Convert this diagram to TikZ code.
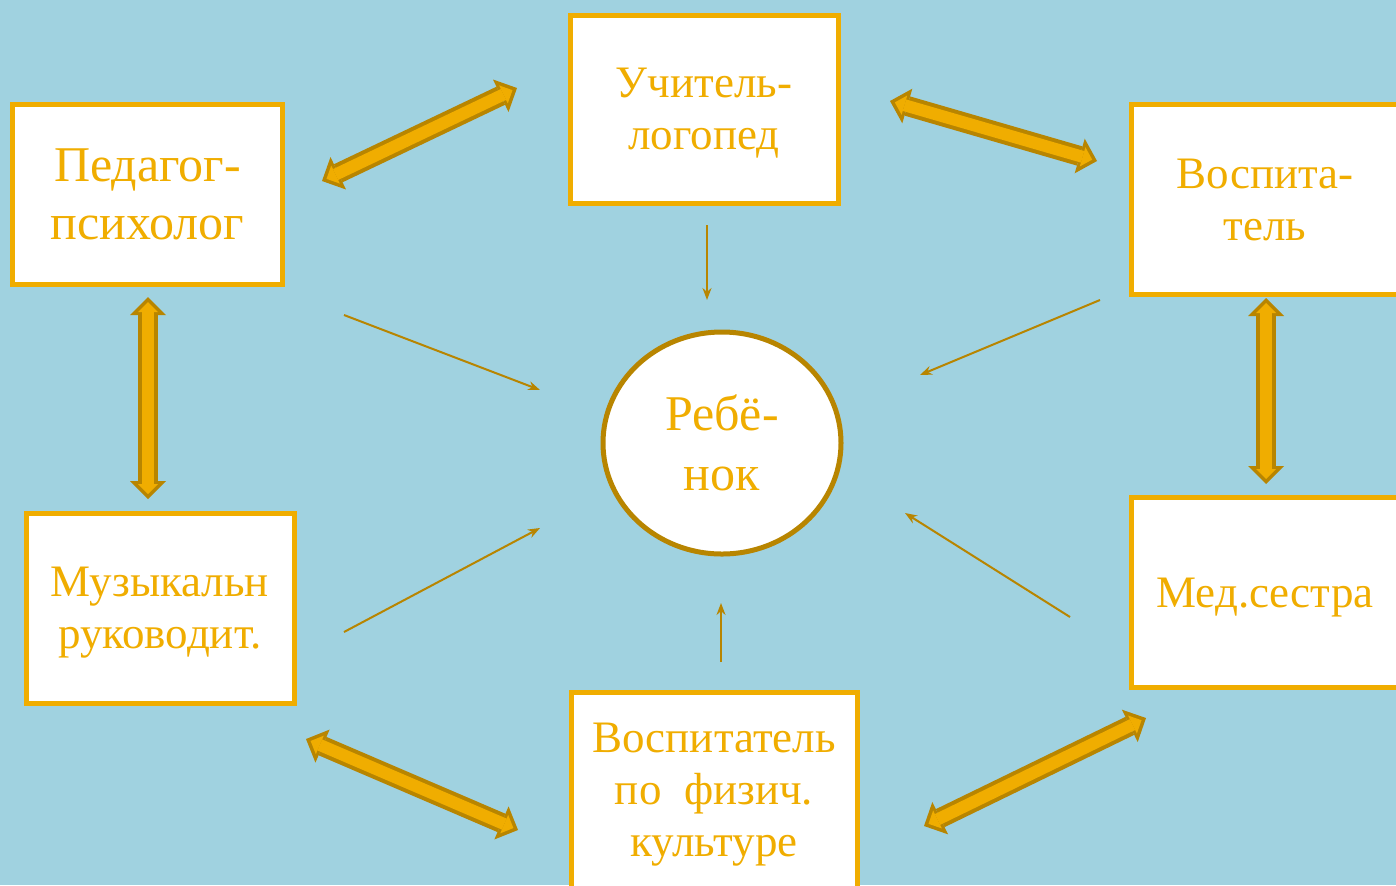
\documentclass[tikz,border=0pt]{standalone}
\usepackage{fontspec}
\setmainfont{Liberation Serif}
\usepackage{tikz}
\usetikzlibrary{arrows.meta,shapes.geometric}
\definecolor{sky}{RGB}{160,210,224}
\definecolor{gold}{RGB}{240,173,0}
\definecolor{darkgold}{RGB}{184,133,0}

\tikzset{
  role/.style={draw=gold, line width=2.5pt, fill=white, text=gold, align=center,
    inner sep=0pt, minimum width=134pt, minimum height=95pt, text depth=-4pt,
    font=\fontsize{22.5}{26}\selectfont},
  child/.style={ellipse, draw=darkgold, line width=2.5pt, fill=white, text=gold,
    align=center, inner sep=0pt, minimum width=119pt, minimum height=111pt,
    text depth=-4pt, font=\fontsize{25}{30}\selectfont},
  bigout/.style={draw=darkgold, line width=10pt,
    {Triangle[length=9pt,width=18pt,line width=0pt]}-{Triangle[length=9pt,width=18pt,line width=0pt]}},
  bigin/.style={draw=gold, line width=6pt, shorten <=2.5pt, shorten >=2.5pt,
    {Triangle[length=5pt,width=10pt,line width=0pt]}-{Triangle[length=5pt,width=10pt,line width=0pt]}},
  thin/.style={draw=darkgold, line width=1pt, -{Stealth[length=6pt,width=4.5pt]}}
}

\begin{document}
\begin{tikzpicture}[x=0.5pt,y=-0.5pt]
\clip (0,0) rectangle (1396,885);
\fill[sky] (0,0) rectangle (1396,885);

% the people round the child
\node[role, minimum width=135pt, minimum height=90pt, font=\fontsize{25}{29}\selectfont] (ped) at (147.5,194) {Педагог-\\психолог};
\node[role, minimum height=94pt] (log) at (704,109) {Учитель-\\логопед};
\node[role] (vos) at (1265,199.5) {Воспита-\\тель};
\node[role] (muz) at (160,608) {Музыкальн\\руководит.};
\node[role, minimum width=143pt, minimum height=98pt] (fiz) at (714,790) {Воспитатель\\по~~физич.\\культуре};
\node[role] (med) at (1265,592.5) {Мед.сестра};
\node[child] (reb) at (722,443) {Ребё-\\нок};

% ends of the thick arrows
\coordinate (pl1) at (322,181);  \coordinate (pl2) at (517,88);
\coordinate (lv1) at (890,101);  \coordinate (lv2) at (1097,161);
\coordinate (pm1) at (148,297);  \coordinate (pm2) at (148,499);
\coordinate (vm1) at (1266,298); \coordinate (vm2) at (1266,484);
\coordinate (mf1) at (306,739);  \coordinate (mf2) at (518,830);
\coordinate (fm1) at (924,826);  \coordinate (fm2) at (1146,718);

\foreach \a/\b in {pl1/pl2, lv1/lv2, pm1/pm2, vm1/vm2, mf1/mf2, fm1/fm2}{
  \draw[bigout] (\a) -- (\b);
  \draw[bigin] (\a) -- (\b);
}

% ends of the thin arrows
\coordinate (p1) at (344,315);  \coordinate (p2) at (540,390);
\coordinate (l1) at (707,225);  \coordinate (l2) at (707,300);
\coordinate (v1) at (1100,300); \coordinate (v2) at (920,375);
\coordinate (m1) at (344,632);  \coordinate (m2) at (540,528);
\coordinate (f1) at (721,662);  \coordinate (f2) at (721,603);
\coordinate (s1) at (1070,617); \coordinate (s2) at (905,513);

\foreach \a/\b in {p1/p2, l1/l2, v1/v2, m1/m2, f1/f2, s1/s2}
  \draw[thin] (\a) -- (\b);
\end{tikzpicture}
\end{document}
